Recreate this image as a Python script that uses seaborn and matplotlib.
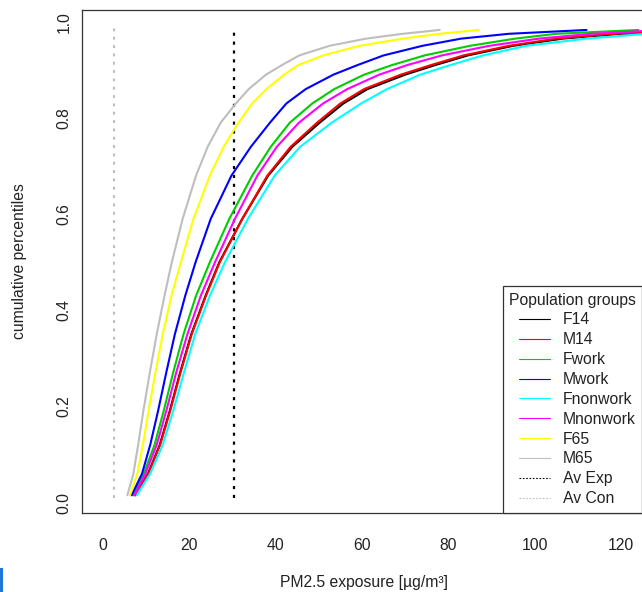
import numpy as np
import pandas as pd
import matplotlib
matplotlib.use("Agg")
import matplotlib.pyplot as plt
from matplotlib.lines import Line2D
from matplotlib.patches import Rectangle
from matplotlib.legend_handler import HandlerLine2D
import seaborn as sns

# ---------------- data ----------------
percentiles = [0.015, 0.06, 0.12, 0.19, 0.27, 0.35, 0.43, 0.5, 0.59, 0.68, 0.74,
               0.79, 0.83, 0.86, 0.89, 0.91, 0.93, 0.95, 0.965, 0.975, 0.983]

F14 = [7.5, 10.5, 13.2, 15.5, 17.9, 20.5, 23.8, 27.0, 32.3, 38.3, 43.9,
       50.2, 55.7, 61.3, 70.0, 77.0, 84.5, 95.0, 106.5, 120.0, 143.0]
M14 = [7.6, 10.6, 13.3, 15.6, 18.0, 20.6, 23.9, 27.1, 32.3, 38.1, 43.5,
       49.6, 55.0, 60.5, 69.0, 76.0, 83.5, 94.0, 105.0, 118.0, 140.0]
Fwork = [7.1, 9.5, 12.0, 14.1, 16.3, 18.7, 21.6, 24.8, 29.3, 34.6, 38.9,
         43.3, 48.5, 53.6, 60.5, 67.0, 74.5, 85.0, 95.5, 105.0, 124.0]
Mwork = [6.7, 9.1, 11.0, 12.8, 14.7, 16.7, 19.1, 21.5, 25.0, 29.8, 34.3,
         38.7, 42.5, 47.0, 53.4, 59.0, 65.0, 74.0, 83.0, 94.0, 112.0]
Fnonwork = [7.9, 11.0, 13.9, 16.3, 18.8, 21.4, 24.8, 28.3, 33.6, 39.8, 45.7,
            53.0, 59.8, 65.8, 73.5, 80.5, 88.0, 98.0, 112.0, 126.0, 150.0]
Mnonwork = [7.3, 9.9, 12.5, 14.7, 17.0, 19.6, 22.7, 26.0, 30.6, 35.8, 40.3,
            45.4, 51.0, 56.6, 64.0, 70.5, 78.5, 89.5, 101.0, 113.0, 130.0]
F65 = [6.3, 8.0, 9.3, 10.6, 12.2, 13.9, 15.9, 18.1, 21.0, 24.8, 28.0,
       31.4, 34.6, 37.9, 42.0, 45.3, 51.0, 59.5, 69.5, 78.0, 87.0]
M65 = [5.7, 7.1, 8.2, 9.4, 10.9, 12.5, 14.3, 16.0, 18.5, 21.6, 24.3,
       27.3, 30.8, 33.8, 37.8, 41.5, 45.5, 52.5, 61.0, 69.5, 78.0]

groups = ["F14", "M14", "Fwork", "Mwork", "Fnonwork", "Mnonwork", "F65", "M65"]
group_values = [F14, M14, Fwork, Mwork, Fnonwork, Mnonwork, F65, M65]
colors = ["#000000", "#FF0000", "#00CD00", "#0000FF", "#00FFFF", "#FF00FF", "#FFFF00", "#BEBEBE"]

av_exp = 30.5
av_con = 2.5
ref_line_range = [0.01, 0.99]

legend_title = "Population groups"
ref_labels = ["Av Exp", "Av Con"]
ref_colors = ["#000000", "#BEBEBE"]
x_label = "PM2.5 exposure [\u00b5g/m\u00b3]"
y_label = "cumulative percentiles"
x_ticks = [0, 20, 40, 60, 80, 100, 120]
y_ticks = [0.0, 0.2, 0.4, 0.6, 0.8, 1.0]

# ---------------- build table ----------------
rows = []
for g, vals in zip(groups, group_values):
    for p, x in zip(percentiles, vals):
        rows.append({"group": g, "exposure": x, "percentile": p})
df = pd.DataFrame(rows)

# ---------------- figure ----------------
sns.set_style("white")
plt.rcParams["font.family"] = ["Liberation Sans", "DejaVu Sans"]
FS = 11.3

W, H = 642, 592
fig = plt.figure(figsize=(W / 100, H / 100), dpi=100)
ax_left, ax_right, ax_top, ax_bottom = 82.5, 645.3, 10.0, 512.5
ax = fig.add_axes([ax_left / W, (H - ax_bottom) / H,
                   (ax_right - ax_left) / W, (ax_bottom - ax_top) / H])

dot = (0, (1.4, 2.6))
ax.plot([av_con, av_con], ref_line_range, color=ref_colors[1], lw=1.5, linestyle=dot, zorder=1)
ax.plot([av_exp, av_exp], ref_line_range, color=ref_colors[0], lw=1.6, linestyle=dot, zorder=1)

sns.lineplot(data=df, x="exposure", y="percentile", hue="group", hue_order=groups,
             palette=dict(zip(groups, colors)), estimator=None, sort=False,
             linewidth=1.5, legend=False, ax=ax)

ax.set_xlim(-4.68, 125.6)
ax.set_ylim(-0.0208, 1.0245)
ax.set_xticks(x_ticks)
ax.set_yticks(y_ticks)
ax.set_xticklabels([str(t) for t in x_ticks], fontsize=FS, color="#222222")
ax.set_yticklabels([f"{t:.1f}" for t in y_ticks], fontsize=FS, rotation=90,
                   va="center", color="#222222")
ax.tick_params(axis="both", direction="out", length=7, width=0.8, color="#333333")
ax.tick_params(axis="x", pad=11)
ax.tick_params(axis="y", pad=1)
for s in ax.spines.values():
    s.set_color("#333333")
    s.set_linewidth(0.9)

ax.set_xlabel(x_label, fontsize=FS, color="#222222", labelpad=16)
ax.set_ylabel(y_label, fontsize=FS, color="#222222", labelpad=21)

# legend
handles = [Line2D([], [], color=c, lw=0.8) for c in colors]
handles += [Line2D([], [], color=ref_colors[0], lw=0.8, linestyle=(0, (1.5, 1.5))),
            Line2D([], [], color=ref_colors[1], lw=0.8, linestyle=(0, (1.5, 1.5)))]
labels = groups + ref_labels
hmap = {h: HandlerLine2D(xpad=0.64) for h in handles}
leg = ax.legend(handles, labels, title=legend_title, loc="lower left",
                bbox_to_anchor=(503 / W, (H - 512.5) / H), bbox_transform=fig.transFigure,
                borderaxespad=0, fontsize=FS, title_fontsize=FS, frameon=True,
                fancybox=False, framealpha=1, edgecolor="#333333",
                handlelength=2.6, handletextpad=0.83, labelspacing=0.31,
                borderpad=0.4, handler_map=hmap, alignment="left")
leg.get_frame().set_linewidth(0.9)
for t in leg.get_texts():
    t.set_color("#222222")
leg.get_title().set_color("#222222")

# small blue marker at lower-left edge of the reference image
fig.patches.append(Rectangle((0, 0), 3 / W, 24 / H, transform=fig.transFigure,
                             facecolor="#1E78D8", edgecolor="none"))

fig.savefig("out.png", dpi=100)
